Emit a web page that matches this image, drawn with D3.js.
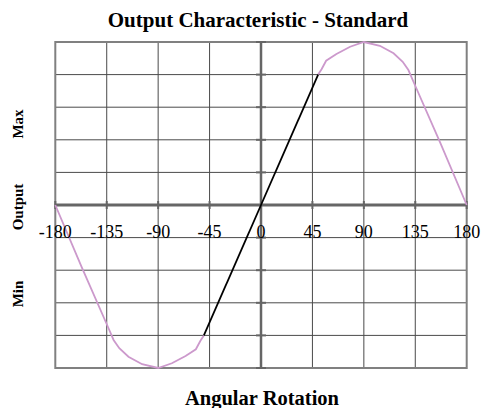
<!DOCTYPE html>
<html><head><meta charset="utf-8">
<script src="https://cdn.jsdelivr.net/npm/d3@7"></script>
<style>body{margin:0;background:#fff}svg{display:block}</style>
</head><body>
<script>
const title = "Output Characteristic - Standard";
const xLabel = "Angular Rotation";
const yLabels = ["Max", "Output", "Min"];
const xTicks = [-180, -135, -90, -45, 0, 45, 90, 135, 180];
const yGrid = [-1, -0.8, -0.6, -0.4, -0.2, 0, 0.2, 0.4, 0.6, 0.8, 1];
// linear (black) section
const linX = [-50, 0, 50];
const linY = [-0.80, 0, 0.80];
// pink curve, upper half
const posX = [50, 53, 57, 66, 78, 90, 104, 116, 124, 129, 134, 157, 180];
const posY = [0.80, 0.833, 0.885, 0.926, 0.971, 1.0, 0.977, 0.931, 0.879, 0.828, 0.747, 0.38, 0];
// pink curve, lower half
const negX = [-180, -157, -134, -129, -124, -116, -104, -90, -78, -66, -57, -53, -50];
const negY = [0, -0.38, -0.747, -0.828, -0.879, -0.931, -0.977, -1.0, -0.971, -0.926, -0.885, -0.833, -0.80];

const W = 483, H = 408;
const L = 55.3, R = 466.7, T = 42, B = 368;
const svg = d3.select("body").append("svg").attr("width", W).attr("height", H);
const x = d3.scaleLinear().domain([-180, 180]).range([L, R]);
const y = d3.scaleLinear().domain([-1, 1]).range([B, T]);

const serif = "'Liberation Serif','Times New Roman',serif";
const grid = svg.append("g");
grid.selectAll("line.v").data(xTicks.slice(1, -1)).join("line")
  .attr("x1", d => x(d)).attr("x2", d => x(d)).attr("y1", T).attr("y2", B)
  .attr("stroke", "#4a4a4a").attr("stroke-width", 1);
grid.selectAll("line.h").data(yGrid.slice(1, -1)).join("line")
  .attr("x1", L).attr("x2", R).attr("y1", d => y(d)).attr("y2", d => y(d))
  .attr("stroke", "#4a4a4a").attr("stroke-width", 1);
grid.append("rect").attr("x", L).attr("y", T).attr("width", R - L).attr("height", B - T)
  .attr("fill", "none").attr("stroke", "#808080").attr("stroke-width", 2);

// zero axes
svg.append("line").attr("x1", L).attr("x2", R).attr("y1", y(0)).attr("y2", y(0))
  .attr("stroke", "#666").attr("stroke-width", 3);
svg.append("line").attr("x1", x(0)).attr("x2", x(0)).attr("y1", T).attr("y2", B)
  .attr("stroke", "#666").attr("stroke-width", 2.5);
svg.selectAll("line.yt").data(yGrid).join("line")
  .attr("x1", x(0) - 5).attr("x2", x(0) + 5).attr("y1", d => y(d)).attr("y2", d => y(d))
  .attr("stroke", "#666").attr("stroke-width", 2);
svg.selectAll("line.xt").data(xTicks).join("line")
  .attr("x1", d => x(d)).attr("x2", d => x(d)).attr("y1", y(0) - 4).attr("y2", y(0) + 4)
  .attr("stroke", "#666").attr("stroke-width", 2);

const line = d3.line().x(d => x(d[0])).y(d => y(d[1]));
svg.append("path").datum(posX.map((v, i) => [v, posY[i]])).attr("d", line)
  .attr("fill", "none").attr("stroke", "#cc99cc").attr("stroke-width", 1.8);
svg.append("path").datum(negX.map((v, i) => [v, negY[i]])).attr("d", line)
  .attr("fill", "none").attr("stroke", "#cc99cc").attr("stroke-width", 1.8);
svg.append("path").datum(linX.map((v, i) => [v, linY[i]])).attr("d", line)
  .attr("fill", "none").attr("stroke", "#000").attr("stroke-width", 1.8);

svg.selectAll("text.xl").data(xTicks).join("text")
  .attr("x", d => x(d)).attr("y", 238).attr("text-anchor", "middle")
  .attr("font-family", serif).attr("font-size", 18).text(d => d);

svg.append("text").attr("x", 258).attr("y", 27).attr("text-anchor", "middle")
  .attr("font-family", serif).attr("font-weight", "bold").attr("font-size", 21).text(title);
svg.append("text").attr("x", 262).attr("y", 405).attr("text-anchor", "middle")
  .attr("font-family", serif).attr("font-weight", "bold").attr("font-size", 20.5).text(xLabel);
const yPos = [124, 207, 294];
svg.selectAll("text.yl").data(yLabels).join("text")
  .attr("transform", (d, i) => `translate(23,${yPos[i]}) rotate(-90)`)
  .attr("text-anchor", "middle")
  .attr("font-family", serif).attr("font-weight", "bold").attr("font-size", 15).text(d => d);
</script>
</body></html>
